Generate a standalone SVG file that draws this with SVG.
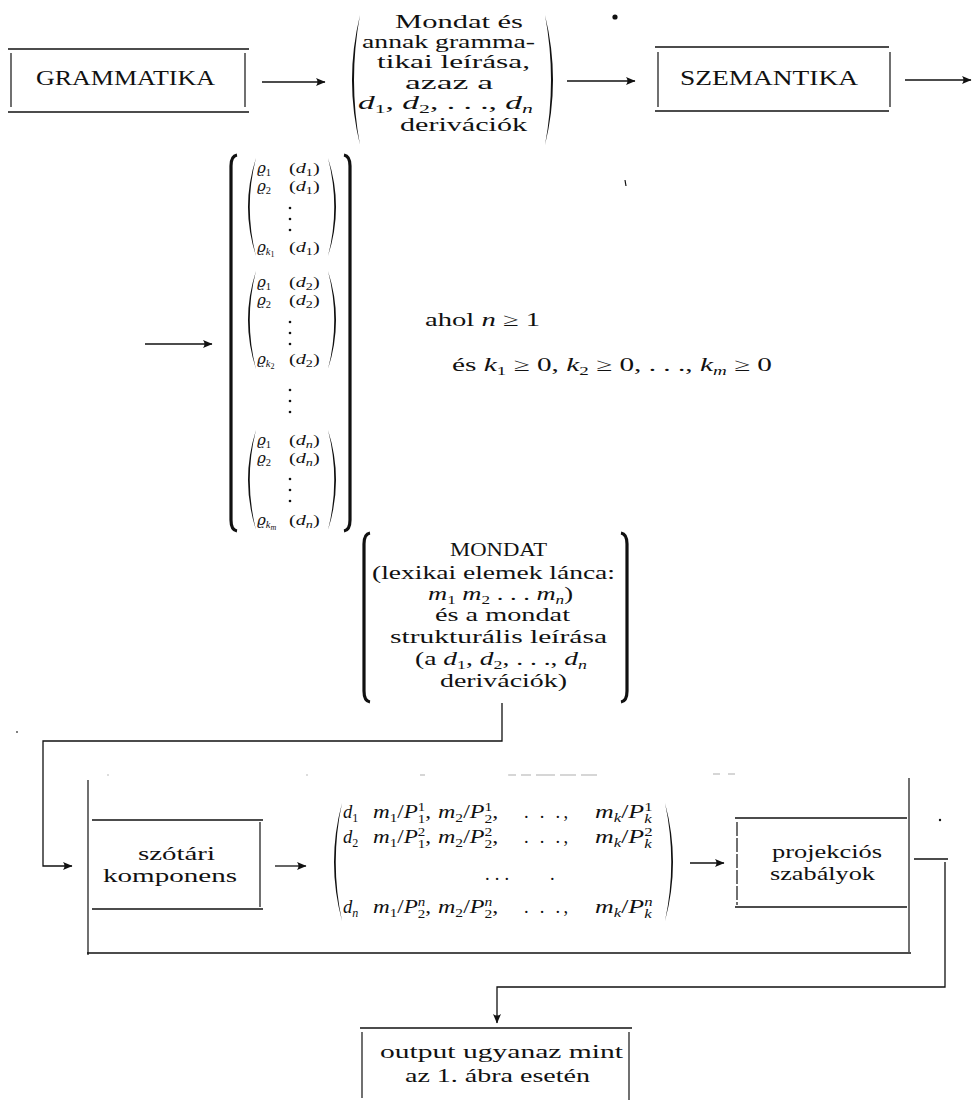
<svg xmlns="http://www.w3.org/2000/svg" width="973" height="1101" viewBox="0 0 973 1101">
<defs>
<marker id="ah" viewBox="-10 -5 11 10" refX="0" refY="0" markerWidth="11" markerHeight="10" markerUnits="userSpaceOnUse" orient="auto"><path d="M0.5,0 L-9,-4 Q-6,0 -9,4 Z" fill="#111"/></marker>
</defs>
<style>
.t{font-family:"Liberation Serif","DejaVu Serif",serif;font-size:18.5px;fill:#111}
.r{font-family:"Liberation Serif","DejaVu Serif",serif;font-size:15px;fill:#111}
.rho{font-family:"DejaVu Serif","Liberation Serif",serif;font-size:15px;font-style:italic}
.h{font-size:22px}
.i{font-style:italic}
.n{font-style:normal}
.s{font-size:12px}
.s2{font-size:10.5px}
.ss{font-size:8px}
.hl{stroke:#111;stroke-width:1.7;fill:none}
.vl{stroke:#111;stroke-width:1.2;fill:none}
.cn{stroke:#111;stroke-width:1.3;fill:none}
.ar{marker-end:url(#ah)}
.br{stroke:#111;stroke-width:3.2;fill:none}
.pa{fill:#111}
.fd{stroke:#bbb;stroke-width:1.2}
.dt{fill:#111}
</style>
<rect width="973" height="1101" fill="#fff"/>

<g id="grammatika">
<line class="hl" x1="8" y1="49" x2="249" y2="49"/>
<line class="hl" x1="8" y1="112" x2="249" y2="112"/>
<line class="vl" x1="11" y1="53" x2="11" y2="107"/>
<line class="vl" x1="245" y1="53" x2="245" y2="107"/>
<text class="t h" x="36" y="85" textLength="179" lengthAdjust="spacingAndGlyphs">GRAMMATIKA</text>
</g>

<g id="mondat-leiras">
<path class="pa" d="M360,15 Q344,80 360,145 Q348,80 360,15 Z"/>
<path class="pa" d="M545,15 Q561,80 545,145 Q557,80 545,15 Z"/>
<text class="t" x="395" y="28" textLength="128" lengthAdjust="spacingAndGlyphs">Mondat és</text>
<text class="t" x="362" y="48" textLength="173" lengthAdjust="spacingAndGlyphs">annak gramma-</text>
<text class="t" x="377" y="68" textLength="153" lengthAdjust="spacingAndGlyphs">tikai leírása,</text>
<text class="t" x="405" y="89" textLength="88" lengthAdjust="spacingAndGlyphs">azaz a</text>
<text class="t" x="358" y="109" textLength="175" lengthAdjust="spacingAndGlyphs"><tspan class="i">d</tspan><tspan class="s" dy="4">1</tspan><tspan dy="-4">, </tspan><tspan class="i">d</tspan><tspan class="s" dy="4">2</tspan><tspan dy="-4">, . . ., </tspan><tspan class="i">d</tspan><tspan class="s i" dy="4">n</tspan></text>
<text class="t" x="400" y="131" textLength="127" lengthAdjust="spacingAndGlyphs">derivációk</text>
</g>

<g id="szemantika">
<line class="hl" x1="655" y1="47" x2="889" y2="47"/>
<line class="hl" x1="655" y1="111" x2="889" y2="111"/>
<line class="vl" x1="658" y1="52" x2="658" y2="107"/>
<line class="vl" x1="890" y1="52" x2="890" y2="107"/>
<text class="t h" x="680" y="85" textLength="178" lengthAdjust="spacingAndGlyphs">SZEMANTIKA</text>
</g>

<g id="rho-matrix">
<path class="br" d="M237,155 Q231,156 231,166 V520 Q231,530 237,531"/>
<path class="br" d="M344,155 Q350,156 350,166 V520 Q350,530 344,531"/>
<!-- group 1 -->
<path class="pa" d="M256,158 Q240,207 256,256 Q243.5,207 256,158 Z"/>
<path class="pa" d="M328,158 Q344,207 328,256 Q340.5,207 328,158 Z"/>
<text class="r" x="257" y="173"><tspan class="rho">ϱ</tspan><tspan class="s2" dy="3">1</tspan></text>
<text class="r" transform="translate(289,173) scale(1.35,1)">(<tspan class="i">d</tspan><tspan class="s2" dy="3">1</tspan><tspan dy="-3">)</tspan></text>
<text class="r" x="257" y="191"><tspan class="rho">ϱ</tspan><tspan class="s2" dy="3">2</tspan></text>
<text class="r" transform="translate(289,191) scale(1.35,1)">(<tspan class="i">d</tspan><tspan class="s2" dy="3">1</tspan><tspan dy="-3">)</tspan></text>
<circle class="dt" cx="290" cy="208" r="1.3"/><circle class="dt" cx="290" cy="219" r="1.3"/><circle class="dt" cx="290" cy="230" r="1.3"/>
<text class="r" x="257" y="252"><tspan class="rho">ϱ</tspan><tspan class="s2 i" dy="3">k</tspan><tspan class="ss" dy="2">1</tspan></text>
<text class="r" transform="translate(289,252) scale(1.35,1)">(<tspan class="i">d</tspan><tspan class="s2" dy="3">1</tspan><tspan dy="-3">)</tspan></text>
<!-- group 2 -->
<path class="pa" d="M256,271 Q240,320 256,369 Q243.5,320 256,271 Z"/>
<path class="pa" d="M328,271 Q344,320 328,369 Q340.5,320 328,271 Z"/>
<text class="r" x="257" y="287"><tspan class="rho">ϱ</tspan><tspan class="s2" dy="3">1</tspan></text>
<text class="r" transform="translate(289,287) scale(1.35,1)">(<tspan class="i">d</tspan><tspan class="s2" dy="3">2</tspan><tspan dy="-3">)</tspan></text>
<text class="r" x="257" y="305"><tspan class="rho">ϱ</tspan><tspan class="s2" dy="3">2</tspan></text>
<text class="r" transform="translate(289,305) scale(1.35,1)">(<tspan class="i">d</tspan><tspan class="s2" dy="3">2</tspan><tspan dy="-3">)</tspan></text>
<circle class="dt" cx="290" cy="322" r="1.3"/><circle class="dt" cx="290" cy="333" r="1.3"/><circle class="dt" cx="290" cy="344" r="1.3"/>
<text class="r" x="257" y="364"><tspan class="rho">ϱ</tspan><tspan class="s2 i" dy="3">k</tspan><tspan class="ss" dy="2">2</tspan></text>
<text class="r" transform="translate(289,364) scale(1.35,1)">(<tspan class="i">d</tspan><tspan class="s2" dy="3">2</tspan><tspan dy="-3">)</tspan></text>
<!-- middle dots -->
<circle class="dt" cx="290" cy="390" r="1.3"/><circle class="dt" cx="290" cy="401" r="1.3"/><circle class="dt" cx="290" cy="412" r="1.3"/>
<!-- group n -->
<path class="pa" d="M256,430 Q240,480 256,530 Q243.5,480 256,430 Z"/>
<path class="pa" d="M328,430 Q344,480 328,530 Q340.5,480 328,430 Z"/>
<text class="r" x="257" y="445"><tspan class="rho">ϱ</tspan><tspan class="s2" dy="3">1</tspan></text>
<text class="r" transform="translate(289,445) scale(1.35,1)">(<tspan class="i">d</tspan><tspan class="s2 i" dy="3">n</tspan><tspan dy="-3">)</tspan></text>
<text class="r" x="257" y="463"><tspan class="rho">ϱ</tspan><tspan class="s2" dy="3">2</tspan></text>
<text class="r" transform="translate(289,463) scale(1.35,1)">(<tspan class="i">d</tspan><tspan class="s2 i" dy="3">n</tspan><tspan dy="-3">)</tspan></text>
<circle class="dt" cx="290" cy="479" r="1.3"/><circle class="dt" cx="290" cy="490" r="1.3"/><circle class="dt" cx="290" cy="501" r="1.3"/>
<text class="r" x="257" y="525"><tspan class="rho">ϱ</tspan><tspan class="s2 i" dy="3">k</tspan><tspan class="ss i" dy="2">m</tspan></text>
<text class="r" transform="translate(289,525) scale(1.35,1)">(<tspan class="i">d</tspan><tspan class="s2 i" dy="3">n</tspan><tspan dy="-3">)</tspan></text>
</g>

<g id="feltetel">
<text class="t" x="425" y="326" textLength="115" lengthAdjust="spacingAndGlyphs">ahol <tspan class="i">n</tspan> ≥ 1</text>
<text class="t" x="452" y="371" textLength="320" lengthAdjust="spacingAndGlyphs">és <tspan class="i">k</tspan><tspan class="s" dy="4">1</tspan><tspan dy="-4"> ≥ 0, </tspan><tspan class="i">k</tspan><tspan class="s" dy="4">2</tspan><tspan dy="-4"> ≥ 0, . . ., </tspan><tspan class="i">k</tspan><tspan class="s i" dy="4">m</tspan><tspan dy="-4"> ≥ 0</tspan></text>
</g>

<g id="mondat-struktura">
<path class="br" d="M370,533 Q364,534 364,544 V691 Q364,701 370,702"/>
<path class="br" d="M621,533 Q627,534 627,544 V691 Q627,701 621,702"/>
<text class="t" x="450" y="556" font-size="20" textLength="97" lengthAdjust="spacingAndGlyphs">MONDAT</text>
<text class="t" x="372" y="579" textLength="243" lengthAdjust="spacingAndGlyphs">(lexikai elemek lánca:</text>
<text class="t" x="428" y="600" textLength="145" lengthAdjust="spacingAndGlyphs"><tspan class="i">m</tspan><tspan class="s" dy="4">1</tspan><tspan dy="-4"> </tspan><tspan class="i">m</tspan><tspan class="s" dy="4">2</tspan><tspan dy="-4"> . . . </tspan><tspan class="i">m</tspan><tspan class="s i" dy="4">n</tspan><tspan dy="-4">)</tspan></text>
<text class="t" x="435" y="621" textLength="135" lengthAdjust="spacingAndGlyphs">és a mondat</text>
<text class="t" x="390" y="643" textLength="217" lengthAdjust="spacingAndGlyphs">strukturális leírása</text>
<text class="t" x="415" y="665" textLength="172" lengthAdjust="spacingAndGlyphs">(a <tspan class="i">d</tspan><tspan class="s" dy="4">1</tspan><tspan dy="-4">, </tspan><tspan class="i">d</tspan><tspan class="s" dy="4">2</tspan><tspan dy="-4">, . . ., </tspan><tspan class="i">d</tspan><tspan class="s i" dy="4">n</tspan></text>
<text class="t" x="440" y="687" textLength="127" lengthAdjust="spacingAndGlyphs">derivációk)</text>
</g>

<g id="keret">
<line class="vl" x1="88" y1="780" x2="88" y2="955"/>
<line class="hl" x1="87" y1="953" x2="911" y2="953"/>
<line class="vl" x1="909" y1="778" x2="909" y2="952"/>
<line class="fd" x1="107" y1="775" x2="109" y2="775"/>
<line class="fd" x1="306" y1="775" x2="308" y2="775"/>
<line class="fd" x1="420" y1="775" x2="425" y2="775"/>
<line class="fd" x1="508" y1="775" x2="516" y2="775"/>
<line class="fd" x1="521" y1="775" x2="531" y2="775"/>
<line class="fd" x1="536" y1="775" x2="555" y2="775"/>
<line class="fd" x1="560" y1="775" x2="576" y2="775"/>
<line class="fd" x1="581" y1="775" x2="597" y2="775"/>
<line class="fd" x1="713" y1="774" x2="720" y2="774"/>
<line class="fd" x1="728" y1="774" x2="735" y2="774"/>
</g>

<g id="szotari">
<line class="hl" x1="92" y1="820" x2="263" y2="820"/>
<line class="hl" x1="92" y1="909" x2="263" y2="909"/>
<line class="vl" x1="260" y1="822" x2="260" y2="907"/>
<text class="t" x="138" y="860" textLength="77" lengthAdjust="spacingAndGlyphs">szótári</text>
<text class="t" x="103" y="882" textLength="134" lengthAdjust="spacingAndGlyphs">komponens</text>
</g>

<g id="p-matrix">
<path class="pa" d="M342,803 Q326,862 342,921 Q329.5,862 342,803 Z"/>
<path class="pa" d="M665,803 Q681,862 665,921 Q677.5,862 665,803 Z"/>
<!-- row 1 -->
<text class="t i" x="343" y="818">d<tspan class="s n" dy="4">1</tspan></text>
<text class="t i" transform="translate(373,818) scale(1.25,1)">m<tspan class="s n" dy="4">1</tspan><tspan class="n" dy="-4">/</tspan>P<tspan class="s n" dy="-7">1</tspan><tspan class="s n" dx="-6" dy="12">1</tspan><tspan class="n" dy="-5">,</tspan></text>
<text class="t i" transform="translate(438,818) scale(1.3,1)">m<tspan class="s n" dy="4">2</tspan><tspan class="n" dy="-4">/</tspan>P<tspan class="s n" dy="-7">1</tspan><tspan class="s n" dx="-6" dy="12">2</tspan><tspan class="n" dy="-5">,</tspan></text>
<text class="t" x="524" y="818" textLength="44" lengthAdjust="spacing">. . .,</text>
<text class="t i" transform="translate(595,818) scale(1.4,1)">m<tspan class="s" dy="4">k</tspan><tspan class="n" dy="-4">/</tspan>P<tspan class="s n" dy="-7">1</tspan><tspan class="s" dx="-6" dy="12">k</tspan></text>
<!-- row 2 -->
<text class="t i" x="343" y="843">d<tspan class="s n" dy="4">2</tspan></text>
<text class="t i" transform="translate(373,843) scale(1.25,1)">m<tspan class="s n" dy="4">1</tspan><tspan class="n" dy="-4">/</tspan>P<tspan class="s n" dy="-7">2</tspan><tspan class="s n" dx="-6" dy="12">1</tspan><tspan class="n" dy="-5">,</tspan></text>
<text class="t i" transform="translate(438,843) scale(1.3,1)">m<tspan class="s n" dy="4">2</tspan><tspan class="n" dy="-4">/</tspan>P<tspan class="s n" dy="-7">2</tspan><tspan class="s n" dx="-6" dy="12">2</tspan><tspan class="n" dy="-5">,</tspan></text>
<text class="t" x="524" y="843" textLength="44" lengthAdjust="spacing">. . .,</text>
<text class="t i" transform="translate(595,843) scale(1.4,1)">m<tspan class="s" dy="4">k</tspan><tspan class="n" dy="-4">/</tspan>P<tspan class="s n" dy="-7">2</tspan><tspan class="s" dx="-6" dy="12">k</tspan></text>
<!-- dots row -->
<text class="t" x="485" y="880" textLength="24" lengthAdjust="spacing">. . .</text>
<text class="t" x="550" y="880">.</text>
<!-- row n -->
<text class="t i" x="343" y="913">d<tspan class="s" dy="4">n</tspan></text>
<text class="t i" transform="translate(373,913) scale(1.25,1)">m<tspan class="s n" dy="4">1</tspan><tspan class="n" dy="-4">/</tspan>P<tspan class="s" dy="-7">n</tspan><tspan class="s n" dx="-6" dy="12">2</tspan><tspan class="n" dy="-5">,</tspan></text>
<text class="t i" transform="translate(438,913) scale(1.3,1)">m<tspan class="s n" dy="4">2</tspan><tspan class="n" dy="-4">/</tspan>P<tspan class="s" dy="-7">n</tspan><tspan class="s n" dx="-6" dy="12">2</tspan><tspan class="n" dy="-5">,</tspan></text>
<text class="t" x="524" y="913" textLength="44" lengthAdjust="spacing">. . .,</text>
<text class="t i" transform="translate(595,913) scale(1.4,1)">m<tspan class="s" dy="4">k</tspan><tspan class="n" dy="-4">/</tspan>P<tspan class="s" dy="-7">n</tspan><tspan class="s" dx="-6" dy="12">k</tspan></text>
</g>

<g id="projekcios">
<line class="hl" x1="735" y1="818" x2="907" y2="818"/>
<line class="hl" x1="735" y1="907" x2="907" y2="907"/>
<line class="vl" x1="737" y1="822" x2="737" y2="905" stroke-dasharray="14 2"/>
<text class="t" x="772" y="858" textLength="110" lengthAdjust="spacingAndGlyphs">projekciós</text>
<text class="t" x="770" y="880" textLength="105" lengthAdjust="spacingAndGlyphs">szabályok</text>
</g>

<g id="output">
<line class="hl" x1="360" y1="1028" x2="632" y2="1028"/>
<line class="vl" x1="362" y1="1032" x2="362" y2="1098"/>
<line class="vl" x1="629" y1="1032" x2="629" y2="1100"/>
<text class="t" x="380" y="1058" textLength="243" lengthAdjust="spacingAndGlyphs">output ugyanaz mint</text>
<text class="t" x="405" y="1082" textLength="185" lengthAdjust="spacingAndGlyphs">az 1. ábra esetén</text>
</g>

<g id="connectors">
<path class="cn ar" d="M262,82 H325"/>
<path class="cn ar" d="M567,81 H635"/>
<path class="cn ar" d="M905,80 H971"/>
<path class="cn ar" d="M145,344 H212"/>
<path class="cn ar" d="M502,703 V741 H43 V866 H72"/>
<path class="cn ar" d="M275,866 H306"/>
<path class="cn ar" d="M690,863 H724"/>
<path class="cn" d="M914,859 H948"/>
<path class="cn ar" d="M945,862 V987 H497 V1023"/>
</g>

<g id="noise">
<circle cx="615" cy="17" r="2.6" fill="#111"/>
<line x1="625" y1="180" x2="626" y2="186" stroke="#111" stroke-width="1.2"/>
<circle cx="940" cy="820" r="1.2" fill="#111"/>
<circle cx="17" cy="732" r="0.9" fill="#444"/>
</g>
</svg>
